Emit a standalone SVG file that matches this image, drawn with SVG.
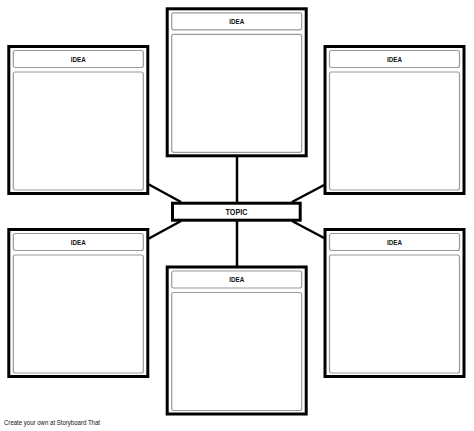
<svg xmlns="http://www.w3.org/2000/svg" width="474" height="431" viewBox="0 0 474 431">
<style>
.outer{fill:#fff;stroke:#000;stroke-width:3}
.inner{fill:#fff;stroke:#9a9a9a;stroke-width:1.2}
.lbl{font-family:"Liberation Sans",Arial,sans-serif;font-weight:bold;font-size:7px;fill:#111;text-anchor:middle}
.conn{stroke:#000;stroke-width:2.5;fill:none}
</style>
<defs>
<g id="card">
<rect class="outer" x="1.5" y="1.5" width="139" height="147"/>
<rect class="inner" x="6" y="5.5" width="130" height="17" rx="2"/>
<rect class="inner" x="6" y="27" width="130" height="118" rx="2"/>
<text class="lbl" x="71" y="16.5" textLength="15" lengthAdjust="spacingAndGlyphs">IDEA</text>
</g>
</defs>
<rect width="474" height="431" fill="#fff"/>
<g id="connectors">
<line class="conn" x1="237" y1="156" x2="237" y2="203"/>
<line class="conn" x1="237" y1="220" x2="237" y2="267"/>
<line class="conn" x1="148" y1="184" x2="181" y2="202"/>
<line class="conn" x1="326" y1="184" x2="292" y2="202"/>
<line class="conn" x1="181" y1="221" x2="148" y2="239"/>
<line class="conn" x1="292" y1="221" x2="326" y2="239"/>
</g>
<g id="idea-top"><use href="#card" x="165.7" y="7.3"/></g>
<g id="idea-top-left"><use href="#card" x="7.3" y="45"/></g>
<g id="idea-top-right"><use href="#card" x="323.5" y="45"/></g>
<g id="idea-bottom-left"><use href="#card" x="7.3" y="228"/></g>
<g id="idea-bottom-right"><use href="#card" x="323.5" y="228"/></g>
<g id="idea-bottom"><use href="#card" x="165.7" y="265.5"/></g>
<g id="topic">
<rect class="outer" x="172.5" y="203.2" width="127.7" height="17"/>
<text class="lbl" x="236.5" y="215" style="font-size:9px" textLength="22" lengthAdjust="spacingAndGlyphs">TOPIC</text>
</g>
<text x="4" y="425" style="font-family:'Liberation Sans',Arial,sans-serif;font-size:6.3px;fill:#111" textLength="96" lengthAdjust="spacingAndGlyphs">Create your own at Storyboard That</text>
</svg>
